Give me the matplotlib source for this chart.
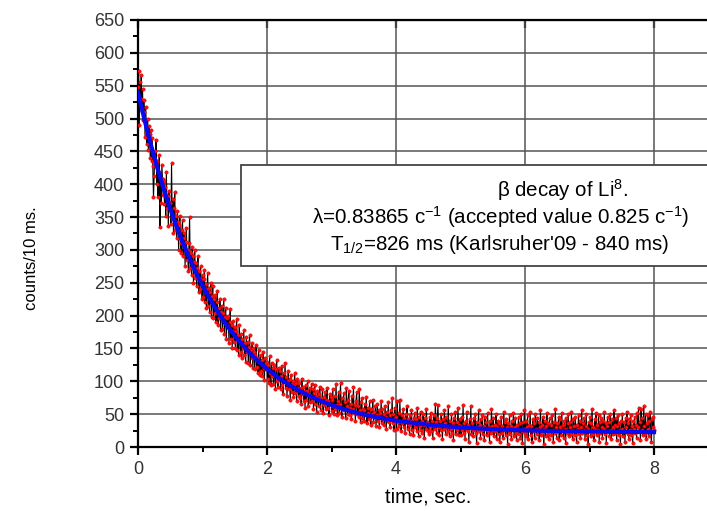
import matplotlib
matplotlib.use('Agg')

import numpy as np
import matplotlib.pyplot as plt
from matplotlib.patches import Rectangle
from matplotlib.ticker import MultipleLocator, FixedLocator

# counts per 10 ms bin, Li8 beta decay, t = 0 .. 8 s (one row = 0.1 s)
bin_width = 0.01
counts = [
	548, 572, 490, 556, 530, 566, 512, 545, 498, 528,
	510, 472, 518, 480, 462, 500, 452, 488, 476, 440,
	482, 436, 470, 428, 380, 412, 450, 432, 468, 400,
	436, 380, 418, 445, 335, 410, 372, 430, 408, 384,
	405, 370, 396, 352, 418, 364, 382, 336, 390, 372,
	372, 340, 432, 350, 378, 326, 364, 388, 330, 352,
	318, 360, 342, 300, 338, 352, 310, 296, 330, 345,
	290, 326, 318, 276, 312, 334, 285, 300, 268, 310,
	350, 272, 295, 262, 305, 290, 250, 282, 300, 258,
	280, 245, 272, 290, 236, 268, 240, 275, 255, 226,
	262, 228, 255, 270, 220, 248, 212, 240, 265, 215,
	242, 205, 236, 250, 198, 230, 245, 196, 226, 204,
	232, 190, 220, 238, 185, 212, 196, 225, 178, 206,
	215, 180, 204, 226, 172, 198, 212, 165, 196, 184,
	200, 158, 190, 210, 165, 185, 150, 192, 176, 160,
	182, 150, 176, 195, 148, 170, 140, 185, 162, 145,
	172, 136, 165, 150, 178, 140, 158, 130, 168, 145,
	160, 128, 152, 170, 125, 148, 135, 158, 120, 150,
	145, 118, 140, 155, 122, 136, 112, 148, 130, 110,
	140, 115, 132, 108, 145, 120, 102, 136, 118, 128,
	130, 104, 125, 98, 138, 112, 95, 128, 108, 120,
	96, 125, 110, 88, 118, 132, 100, 92, 120, 104,
	115, 88, 108, 124, 95, 80, 112, 100, 128, 90,
	106, 78, 100, 116, 88, 104, 72, 110, 96, 84,
	100, 76, 94, 112, 82, 98, 70, 104, 90, 78,
	98, 74, 90, 66, 104, 80, 92, 70, 86, 60,
	94, 72, 85, 100, 62, 80, 90, 68, 76, 96,
	70, 88, 58, 82, 95, 66, 78, 54, 86, 74,
	62, 80, 92, 56, 74, 68, 88, 52, 76, 64,
	84, 58, 72, 90, 60, 70, 48, 80, 66, 76,
	72, 55, 88, 62, 50, 78, 58, 96, 64, 48,
	70, 84, 52, 66, 98, 60, 46, 74, 58, 82,
	56, 68, 44, 90, 62, 50, 72, 86, 48, 60,
	66, 42, 78, 58, 92, 52, 64, 40, 70, 84,
	50, 62, 46, 88, 56, 38, 68, 74, 44, 58,
	56, 40, 66, 48, 76, 36, 52, 60, 42, 70,
	46, 34, 58, 50, 72, 38, 54, 44, 62, 32,
	48, 66, 40, 56, 30, 52, 44, 70, 36, 58,
	42, 50, 34, 62, 46, 28, 54, 40, 68, 38,
	48, 30, 56, 42, 74, 36, 50, 26, 60, 44,
	46, 28, 70, 38, 52, 32, 72, 40, 24, 48,
	36, 58, 30, 44, 22, 50, 38, 62, 28, 42,
	34, 20, 48, 40, 56, 26, 36, 18, 44, 52,
	30, 42, 24, 60, 36, 16, 46, 32, 54, 26,
	40, 22, 50, 34, 14, 44, 28, 58, 38, 24,
	36, 20, 46, 30, 52, 24, 40, 14, 34, 48,
	28, 66, 38, 22, 44, 64, 30, 18, 40, 26,
	50, 34, 12, 42, 28, 56, 36, 20, 46, 30,
	24, 62, 32, 16, 40, 28, 50, 22, 36, 10,
	44, 30, 54, 20, 38, 26, 60, 34, 18, 42,
	32, 18, 46, 26, 64, 22, 36, 12, 40, 28,
	54, 24, 34, 8, 42, 30, 62, 20, 36, 26,
	16, 44, 28, 50, 22, 6, 38, 30, 56, 24,
	34, 14, 42, 26, 48, 20, 32, 10, 46, 28,
	38, 18, 52, 24, 30, 8, 40, 22, 58, 32,
	26, 44, 16, 34, 24, 50, 12, 30, 40, 20,
	36, 8, 28, 46, 22, 32, 14, 54, 26, 38,
	18, 42, 30, 4, 36, 24, 48, 20, 32, 12,
	40, 26, 52, 16, 30, 44, 22, 10, 34, 28,
	46, 20, 36, 14, 50, 24, 6, 38, 28, 56,
	22, 40, 16, 30, 48, 12, 34, 26, 54, 18,
	32, 8, 42, 24, 36, 14, 50, 28, 20, 44,
	26, 38, 10, 30, 56, 18, 34, 22, 46, 4,
	28, 40, 16, 32, 52, 20, 36, 12, 44, 24,
	34, 18, 48, 26, 8, 38, 22, 58, 30, 14,
	36, 24, 46, 10, 30, 42, 18, 52, 26, 34,
	14, 40, 28, 6, 44, 22, 36, 50, 16, 30,
	38, 20, 54, 26, 12, 42, 32, 18, 46, 24,
	8, 34, 28, 48, 20, 40, 14, 30, 56, 22,
	36, 26, 44, 12, 32, 50, 18, 28, 4, 38,
	24, 46, 16, 36, 58, 20, 30, 10, 42, 28,
	52, 18, 34, 26, 48, 8, 38, 22, 44, 30,
	14, 40, 28, 54, 20, 36, 6, 32, 46, 24,
	38, 16, 50, 26, 12, 42, 30, 20, 56, 34,
	22, 44, 10, 32, 48, 18, 36, 26, 4, 40,
	28, 50, 16, 38, 24, 8, 44, 30, 54, 20,
	36, 12, 42, 26, 48, 18, 32, 6, 40, 28,
	46, 22, 34, 14, 52, 30, 60, 24, 38, 10,
	58, 26, 44, 18, 62, 32, 20, 50, 12, 36,
	28, 48, 16, 40, 54, 24, 8, 42, 30, 46,
	26,
]

# exponential fit
fit_t = [0, 0.1, 0.2, 0.3, 0.4, 0.5, 0.6, 0.7, 0.8, 0.9, 1.0, 1.1, 1.2, 1.3, 1.4, 1.5, 1.6, 1.7, 1.8, 1.9,
	2.0, 2.2, 2.4, 2.6, 2.8, 3.0, 3.2, 3.4, 3.6, 3.8, 4.0, 4.5, 5.0, 5.5, 6.0, 6.5, 7.0, 7.5, 8.0]
fit_y = [540, 498.4, 460.0, 424.8, 392.4, 362.6, 335.2, 310.0, 286.8, 265.5, 245.9, 227.9, 211.3, 196.1,
	182.1, 169.3, 157.4, 146.5, 136.5, 127.3, 118.8, 103.8, 91.2, 80.5, 71.5, 63.8, 57.4, 51.9, 47.3,
	43.4, 40.1, 33.9, 29.8, 27.1, 25.4, 24.2, 23.5, 23.0, 22.6]

x_ticks = [0, 2, 4, 6, 8]

title_line = u"\u03b2 decay of Li$^{8}$."
lambda_line = u"\u03bb=0.83865 c$^{-1}$ (accepted value 0.825 c$^{-1}$)"
halflife_line = u"T$_{1/2}$=826 ms (Karlsruher'09 - 840 ms)"

plt.rcParams['font.family'] = ['Liberation Sans', 'DejaVu Sans']
plt.rcParams['mathtext.fontset'] = 'custom'
plt.rcParams['mathtext.rm'] = 'Liberation Sans'
plt.rcParams['mathtext.it'] = 'Liberation Sans'

W, H = 707.0, 511.0
fig = plt.figure(figsize=(W / 100, H / 100), dpi=100)
# axes runs past the right edge of the picture (cropped original)
ax = fig.add_axes([138 / W, (H - 447) / H, 645 / W, 427 / H])

t = np.arange(len(counts)) * bin_width
ax.plot(t, counts, color='black', lw=0.8, zorder=3)
ax.plot(t, counts, ls='none', marker='o', ms=2.4, mfc='#ff1010', mec='#e00000', mew=0.4, zorder=4)
ax.plot(fit_t, fit_y, color='#0a0af0', lw=3, zorder=5)

ax.set_xlim(0, 10)
ax.set_ylim(0, 650)
ax.xaxis.set_major_locator(FixedLocator(x_ticks))
ax.xaxis.set_minor_locator(FixedLocator([1, 3, 5, 7]))
ax.yaxis.set_major_locator(MultipleLocator(50))
ax.yaxis.set_minor_locator(MultipleLocator(25))
ax.grid(True, which='major', color='#555555', lw=1.1, zorder=0)
ax.set_axisbelow(True)

for s in ax.spines.values():
	s.set_linewidth(1.6)
ax.spines['right'].set_visible(False)
ax.tick_params(which='major', direction='out', length=6, width=1.6, labelsize=13, labelcolor='#333333', pad=4)
ax.tick_params(which='minor', direction='out', length=3.5, width=1.4)

# inward ticks on the top axis
top = ax.secondary_xaxis('top')
top.xaxis.set_major_locator(FixedLocator(x_ticks))
top.tick_params(direction='in', length=6, width=1.6, labeltop=False)

# annotation box
box = Rectangle((1.6, 275), 10, 154, facecolor='white', edgecolor='#444444', lw=1.3, zorder=2)
ax.add_patch(box)

fig.text(563 / W, 1 - 190 / H, title_line, ha='center', va='center', fontsize=14.8)
fig.text(501 / W, 1 - 217 / H, lambda_line, ha='center', va='center', fontsize=14.8)
fig.text(500 / W, 1 - 244 / H, halflife_line, ha='center', va='center', fontsize=14.8)

fig.text(428 / W, 1 - 497 / H, 'time, sec.', ha='center', va='center', fontsize=14.5)
fig.text(31 / W, 1 - 258 / H, 'counts/10 ms.', ha='center', va='center', rotation=90, fontsize=12)

plt.savefig('out.png', dpi=100)
